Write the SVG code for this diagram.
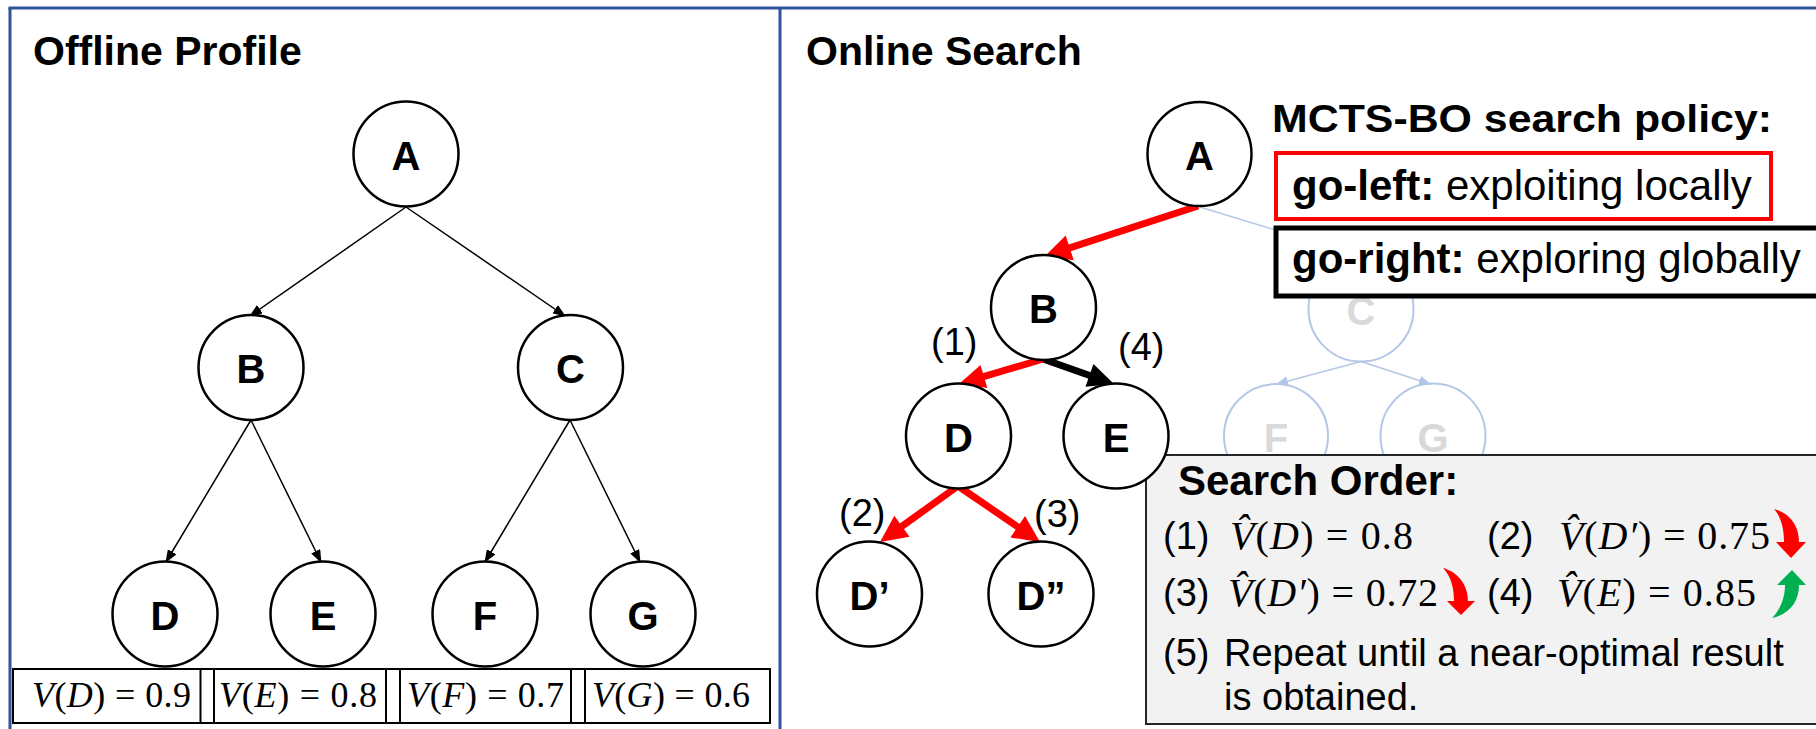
<svg xmlns="http://www.w3.org/2000/svg" width="1816" height="729" viewBox="0 0 1816 729">
  <style>
    .sans { font-family: "Liberation Sans", Arial, sans-serif; }
    .title { font-family: "Liberation Sans", Arial, sans-serif; font-weight: bold; font-size: 41px; }
    .panel { fill: none; stroke: #2F5597; stroke-width: 3; }
    .node circle { fill: #ffffff; stroke: #000000; stroke-width: 2.5; }
    .node text { font-family: "Liberation Sans", Arial, sans-serif; font-weight: bold; font-size: 40px; text-anchor: middle; fill: #000000; }
    .ghost circle { fill: none; stroke: #B4C7E7; stroke-width: 2; }
    .ghost text { font-family: "Liberation Sans", Arial, sans-serif; font-weight: bold; font-size: 40px; text-anchor: middle; fill: #D9D9D9; }
    .thin { stroke: #000000; stroke-width: 1.5; fill: none; marker-end: url(#headThin); }
    .faintline { stroke: #B4C7E7; stroke-width: 1.5; fill: none; }
    .faintarrow { stroke: #B4C7E7; stroke-width: 1.5; fill: none; marker-end: url(#headFaint); }
    .redline { stroke: #FF0000; stroke-width: 7; fill: none; }
    .blackline { stroke: #000000; stroke-width: 7; fill: none; }
    .step { font-family: "Liberation Sans", Arial, sans-serif; font-size: 38px; fill: #000000; }
    .math { font-family: "Liberation Serif", "DejaVu Serif", "Times New Roman", serif; font-size: 40px; fill: #000000; }
    .mathsm { font-family: "Liberation Serif", "Times New Roman", serif; font-size: 36px; fill: #000000; }
    .it { font-style: italic; }
    .policy { font-family: "Liberation Sans", Arial, sans-serif; font-size: 42px; fill: #000000; }
    .b { font-weight: bold; }
  </style>
  <defs>
    <marker id="headThin" markerUnits="userSpaceOnUse" markerWidth="13" markerHeight="10" refX="12" refY="5" orient="auto">
      <path d="M0,0 L13,5 L0,10 Z" fill="#000000"/>
    </marker>
    <marker id="headFaint" markerUnits="userSpaceOnUse" markerWidth="12" markerHeight="10" refX="11" refY="5" orient="auto">
      <path d="M0,0 L12,5 L0,10 Z" fill="#B4C7E7"/>
    </marker>
  </defs>

  <rect x="0" y="0" width="1816" height="729" fill="#ffffff"/>

  <!-- panel frames -->
  <g id="frames">
    <line class="panel" x1="8.5" y1="8" x2="1816" y2="8"/>
    <line class="panel" x1="10" y1="8" x2="10" y2="729"/>
    <line class="panel" x1="780" y1="8" x2="780" y2="729"/>
  </g>

  <text class="title" x="33" y="65">Offline Profile</text>
  <text class="title" x="806" y="65">Online Search</text>

  <!-- connectors -->
  <g id="connectors">
    <!-- offline tree -->
    <line class="thin" x1="406" y1="207" x2="250" y2="316"/>
    <line class="thin" x1="406" y1="207" x2="565" y2="316"/>
    <line class="thin" x1="251" y1="420" x2="166" y2="562"/>
    <line class="thin" x1="251" y1="420" x2="321" y2="562"/>
    <line class="thin" x1="570" y1="420" x2="485" y2="562"/>
    <line class="thin" x1="570" y1="420" x2="640" y2="562"/>
    <!-- online tree, unexplored branch -->
    <line class="faintline" x1="1200" y1="207" x2="1361" y2="256"/>
    <line class="faintarrow" x1="1361" y1="361.5" x2="1277" y2="384"/>
    <line class="faintarrow" x1="1361" y1="361.5" x2="1430" y2="384"/>
    <!-- online tree, explored path -->
    <g id="edge-A-B">
      <line class="redline" x1="1198" y1="206" x2="1065.9" y2="249.2"/>
      <polygon points="1045,256 1065.67,235.56 1073.75,260.28" fill="#FF0000"/>
    </g>
    <g id="edge-B-E">
      <line class="blackline" x1="1043" y1="359" x2="1093.25" y2="376.69"/>
      <polygon points="1114,384 1085.48,386.68 1093.46,364.04" fill="#000000"/>
    </g>
    <g id="edge-B-D">
      <line class="redline" x1="1043" y1="359" x2="980.1" y2="377.7"/>
      <polygon points="959,384 980.5,365.08 987.34,388.08" fill="#FF0000"/>
    </g>
    <g id="edge-D-D1">
      <line class="redline" x1="958" y1="486" x2="898.68" y2="528.59"/>
      <polygon points="880,542 894.35,515.69 909.51,536.81" fill="#FF0000"/>
    </g>
    <g id="edge-D-D2">
      <line class="redline" x1="958" y1="486" x2="1021" y2="529.03"/>
      <polygon points="1040,542 1010.37,537.51 1025.03,516.03" fill="#FF0000"/>
    </g>
  </g>

  <!-- offline profile tree -->
  <g id="off-A" class="node"><circle cx="406" cy="154" r="52.5"/><text x="406" y="169.5">A</text></g>
  <g id="off-B" class="node"><circle cx="251" cy="367.5" r="52.5"/><text x="251" y="383">B</text></g>
  <g id="off-C" class="node"><circle cx="570.5" cy="367.5" r="52.5"/><text x="570.5" y="383">C</text></g>
  <g id="off-D" class="node"><circle cx="165" cy="614" r="52.5"/><text x="165" y="629.5">D</text></g>
  <g id="off-E" class="node"><circle cx="323" cy="614" r="52.5"/><text x="323" y="629.5">E</text></g>
  <g id="off-F" class="node"><circle cx="485" cy="614" r="52.5"/><text x="485" y="629.5">F</text></g>
  <g id="off-G" class="node"><circle cx="643" cy="614" r="52.5"/><text x="643" y="629.5">G</text></g>

  <!-- profiled values -->
  <g id="values">
    <rect x="13" y="669" width="757" height="54" fill="#ffffff" stroke="#000000" stroke-width="2"/>
    <g stroke="#000000" stroke-width="2">
      <line x1="200.5" y1="669" x2="200.5" y2="723"/>
      <line x1="214" y1="669" x2="214" y2="723"/>
      <line x1="386" y1="669" x2="386" y2="723"/>
      <line x1="400" y1="669" x2="400" y2="723"/>
      <line x1="571" y1="669" x2="571" y2="723"/>
      <line x1="585" y1="669" x2="585" y2="723"/>
    </g>
    <text class="mathsm" x="32" y="707" textLength="159"><tspan class="it">V</tspan>(<tspan class="it">D</tspan>) = 0.9</text>
    <text class="mathsm" x="219" y="707" textLength="158"><tspan class="it">V</tspan>(<tspan class="it">E</tspan>) = 0.8</text>
    <text class="mathsm" x="407" y="707" textLength="157"><tspan class="it">V</tspan>(<tspan class="it">F</tspan>) = 0.7</text>
    <text class="mathsm" x="592" y="707" textLength="158"><tspan class="it">V</tspan>(<tspan class="it">G</tspan>) = 0.6</text>
  </g>

  <!-- online tree: unexplored branch -->
  <g id="on-C" class="ghost"><circle cx="1361" cy="309" r="52.5"/><text x="1361" y="324.5">C</text></g>
  <g id="on-F" class="ghost"><circle cx="1276" cy="436" r="52"/><text x="1276" y="451.5">F</text></g>
  <g id="on-G" class="ghost"><circle cx="1433" cy="436" r="52.5"/><text x="1433" y="451.5">G</text></g>

  <!-- search policy legend -->
  <g id="policy">
    <text class="sans b" x="1272" y="132" font-size="38" textLength="500" lengthAdjust="spacingAndGlyphs">MCTS-BO search policy:</text>
    <rect x="1276" y="153" width="495" height="66" fill="#ffffff" stroke="#FF0000" stroke-width="4"/>
    <text class="policy" x="1292" y="200"><tspan class="b">go-left:</tspan> exploiting locally</text>
    <rect x="1276" y="228" width="560" height="68" fill="#ffffff" stroke="#000000" stroke-width="5"/>
    <text class="policy" x="1292" y="273"><tspan class="b">go-right:</tspan> exploring globally</text>
  </g>

  <!-- search order panel -->
  <g id="search-order">
    <rect x="1146" y="455" width="690" height="269" fill="#F2F2F2" stroke="#262626" stroke-width="2"/>
    <text class="sans b" x="1178" y="495" font-size="42">Search Order:</text>

    <text class="step" x="1163" y="549">(1)</text>
    <text class="math" x="1230" y="549" textLength="183"><tspan class="it">V&#x302;</tspan>(<tspan class="it">D</tspan>) = 0.8</text>
    <text class="step" x="1487" y="549">(2)</text>
    <text class="math" x="1559" y="549" textLength="211"><tspan class="it">V&#x302;</tspan>(<tspan class="it">D′</tspan>) = 0.75</text>
    <path d="M1774,509 C1790,513 1799,526 1799,542 L1806,542 L1791,558 L1776,542 L1784,542 C1784,528 1781,517 1774,509 Z" fill="#FF0000"/>

    <text class="step" x="1163" y="606">(3)</text>
    <text class="math" x="1228" y="606" textLength="210"><tspan class="it">V&#x302;</tspan>(<tspan class="it">D′</tspan>) = 0.72</text>
    <path d="M1443,568 C1458,572 1468,585 1468,601 L1475,601 L1461,615 L1447,601 L1454,601 C1454,588 1451,576 1443,568 Z" fill="#FF0000"/>
    <text class="step" x="1487" y="606">(4)</text>
    <text class="math" x="1557" y="606" textLength="199"><tspan class="it">V&#x302;</tspan>(<tspan class="it">E</tspan>) = 0.85</text>
    <path d="M1792,570 L1806,585 L1799,585 C1799,601 1790,614 1772,618 C1780,610 1785,598 1785,585 L1777,585 Z" fill="#00B050"/>

    <text class="step" x="1163" y="666">(5)</text>
    <text class="step" x="1224" y="666" font-size="37.5">Repeat until a near-optimal result</text>
    <text class="step" x="1224" y="710" font-size="37.5">is obtained.</text>
  </g>

  <!-- step labels -->
  <g id="step-labels">
    <text class="step" x="931" y="355">(1)</text>
    <text class="step" x="1118" y="360">(4)</text>
    <text class="step" x="839" y="526">(2)</text>
    <text class="step" x="1034" y="527">(3)</text>
  </g>

  <!-- online tree: explored nodes -->
  <g id="on-A" class="node"><circle cx="1199.5" cy="154" r="52"/><text x="1199.5" y="169.5">A</text></g>
  <g id="on-B" class="node"><circle cx="1043.5" cy="307.5" r="52.5"/><text x="1043.5" y="323">B</text></g>
  <g id="on-D" class="node"><circle cx="958.5" cy="436" r="52.5"/><text x="958.5" y="451.5">D</text></g>
  <g id="on-E" class="node"><circle cx="1116" cy="436" r="52.5"/><text x="1116" y="451.5">E</text></g>
  <g id="on-D1" class="node"><circle cx="869.5" cy="594" r="52.5"/><text x="869.5" y="609.5">D’</text></g>
  <g id="on-D2" class="node"><circle cx="1041" cy="594" r="52.5"/><text x="1041" y="609.5">D”</text></g>
</svg>
